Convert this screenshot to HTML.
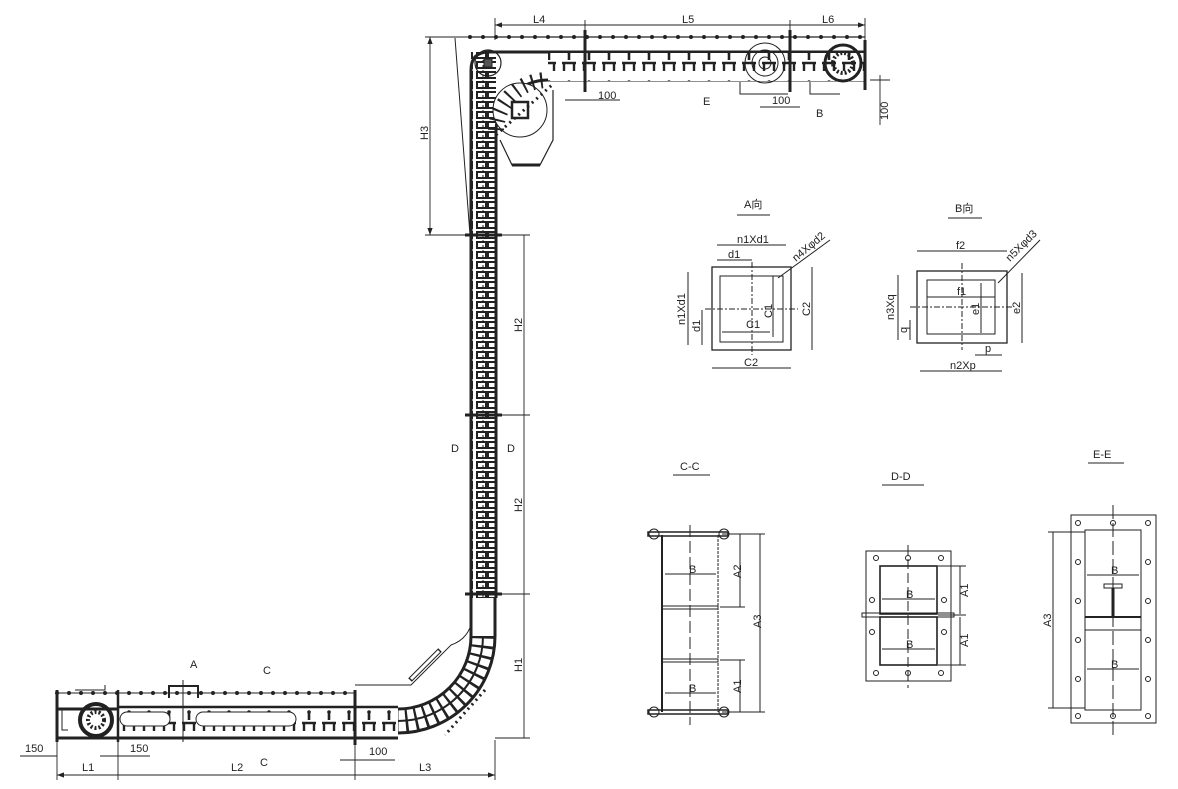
<!DOCTYPE html>
<html><head><meta charset="utf-8"><style>
html,body{margin:0;padding:0;background:#fff;}
svg{display:block;font-family:"Liberation Sans","Noto Sans CJK SC",sans-serif;}
text{font-size:11px;fill:#222;}
</style></head><body>
<svg width="1178" height="789" viewBox="0 0 1178 789" xmlns="http://www.w3.org/2000/svg">
<defs>
<pattern id="vr" width="25" height="10" patternUnits="userSpaceOnUse"><rect x="0" y="0" width="25" height="10" fill="#fff"/><rect x="2" y="2" width="9" height="6" fill="none" stroke="#222" stroke-width="2"/><rect x="13" y="2" width="9" height="6" fill="none" stroke="#222" stroke-width="2"/></pattern>
<pattern id="hr" width="20" height="30" patternUnits="userSpaceOnUse"><rect width="20" height="30" fill="#fff"/><path d="M2 3h14M4 3v8M14 3v8" stroke="#222" stroke-width="2.4" fill="none"/><path d="M9 21v9" stroke="#222" stroke-width="2.6"/><circle cx="9" cy="22" r="1.8" fill="#222"/></pattern>
<marker id="a" markerWidth="8" markerHeight="6" refX="8" refY="3" orient="auto-start-reverse"><path d="M0 0L8 3L0 6z" fill="#222"/></marker>
</defs>
<g stroke="#222" fill="none">
<!-- vertical column -->
<rect x="471" y="52" width="25" height="546" fill="url(#vr)" stroke="none"/>
<path d="M471 598V70q0-18 18-18H865" stroke-width="3"/>
<path d="M496 598V130a52 52 0 0 1 52-50H865" stroke-width="3"/>
<line x1="483" y1="60" x2="483" y2="598" stroke-width="1" stroke-dasharray="3 2"/>
<line x1="455" y1="38" x2="470" y2="235" stroke-width="1"/>
<!-- top conveyor -->
<rect x="548" y="53" width="317" height="28" fill="url(#hr)" stroke="none"/>
<path d="M470 37H865" stroke-width="4" stroke-dasharray="0 13" stroke-linecap="round"/>
<path d="M470 37H865" stroke-width="1.2"/>
<line x1="585" y1="30" x2="585" y2="92" stroke-width="3"/>
<line x1="790" y1="30" x2="790" y2="92" stroke-width="3"/>
<line x1="865" y1="40" x2="865" y2="90" stroke-width="3"/>
<circle cx="488" cy="63" r="13" stroke-width="1.2"/><rect x="484" y="59" width="8" height="8" fill="#555"/>
<circle cx="765" cy="63" r="20" stroke-width="1"/><circle cx="765" cy="63" r="13"/><circle cx="765" cy="63" r="6"/>
<circle cx="843" cy="63" r="18" stroke-width="3"/><circle cx="843" cy="63" r="10" stroke-width="4" stroke-dasharray="2 2"/>
<path d="M740 82v12h48M810 82v12h30" stroke-width="1"/>
<!-- big wheel + hopper -->
<circle cx="520" cy="110" r="27" stroke-width="1" fill="#fff"/>
<rect x="512" y="102" width="16" height="16" stroke-width="2.5" fill="#fff"/>
<line x1="496" y1="135" x2="552" y2="85" stroke-width="3" stroke-dasharray="2 4"/>
<path d="M500 140L512 165H540L553 140V90" stroke-width="1.2"/>
<line x1="512" y1="165" x2="540" y2="165" stroke-width="3"/>
<path d="M496 130a52 52 0 0 1 52-50" stroke-width="16" stroke-dasharray="2 7"/>
<!-- flanges on column -->
<line x1="465" y1="235" x2="502" y2="235" stroke-width="3"/>
<line x1="465" y1="415" x2="502" y2="415" stroke-width="3"/>
<line x1="465" y1="594" x2="502" y2="594" stroke-width="3"/>
<!-- bend -->
<path d="M471 598V636a73 73 0 0 1 -73 73H57" stroke-width="3"/>
<path d="M495 598V636a97 97 0 0 1 -97 97" stroke-width="3"/>
<path d="M483 636a85 85 0 0 1 -85 85" stroke-width="2"/>
<path d="M483 636a85 85 0 0 1 -85 85" stroke-width="24" stroke-dasharray="2.5 7"/>
<path d="M471 625q-5 15-20 20l-40 40h-56" stroke-width="1"/>
<line x1="410" y1="680" x2="440" y2="650" stroke-width="5" stroke="#222"/><line x1="411" y1="679" x2="439" y2="651" stroke-width="3" stroke="#fff"/>
<path d="M485 690l-40 45" stroke-width="3" stroke-dasharray="2 4"/>
<!-- bottom conveyor -->
<rect x="118" y="705" width="280" height="32" fill="url(#hr)" stroke="none"/>
<path d="M57 738H398" stroke-width="3"/>
<path d="M118 707H398" stroke-width="2.5"/>
<path d="M57 693H355" stroke-width="1"/>
<path d="M57 693H355" stroke-width="4" stroke-dasharray="0 12" stroke-linecap="round"/>
<line x1="57" y1="690" x2="57" y2="742" stroke-width="3"/>
<line x1="118" y1="690" x2="118" y2="742" stroke-width="2.5"/>
<line x1="355" y1="690" x2="355" y2="745" stroke-width="3"/>
<rect x="120" y="712" width="50" height="14" rx="7" stroke-width="1" fill="#fff"/>
<rect x="196" y="712" width="100" height="14" rx="7" stroke-width="1" fill="#fff"/>
<circle cx="96" cy="720" r="16" stroke-width="4"/><circle cx="96" cy="720" r="8" stroke-width="4" stroke-dasharray="2 2"/>
<path d="M75 690h30v-5M68 710h-6v20h6" stroke-width="1"/>
<path d="M169 698v-12h29v12" stroke-width="2"/>
<line x1="183" y1="680" x2="183" y2="742" stroke-width="1"/>
<!-- dimension lines -->
<g stroke-width="0.9">
<line x1="495" y1="25" x2="865" y2="25" marker-start="url(#a)" marker-end="url(#a)"/>
<line x1="585" y1="20" x2="585" y2="30"/><line x1="790" y1="20" x2="790" y2="30"/>
<line x1="495" y1="18" x2="495" y2="40"/><line x1="865" y1="18" x2="865" y2="40"/>
<line x1="430" y1="37" x2="430" y2="235" marker-start="url(#a)" marker-end="url(#a)"/>
<line x1="425" y1="37" x2="470" y2="37"/><line x1="425" y1="235" x2="465" y2="235"/>
<line x1="524" y1="235" x2="524" y2="738" />
<line x1="502" y1="235" x2="530" y2="235"/><line x1="502" y1="415" x2="530" y2="415"/><line x1="502" y1="594" x2="530" y2="594"/>
<line x1="495" y1="738" x2="530" y2="738"/>
<line x1="57" y1="775" x2="495" y2="775" marker-start="url(#a)" marker-end="url(#a)"/>
<line x1="57" y1="742" x2="57" y2="780"/><line x1="118" y1="742" x2="118" y2="780"/><line x1="355" y1="745" x2="355" y2="780"/><line x1="495" y1="740" x2="495" y2="780"/>
<line x1="20" y1="756" x2="57" y2="756"/><line x1="100" y1="756" x2="150" y2="756"/>
<line x1="340" y1="760" x2="395" y2="760"/>
<line x1="565" y1="100" x2="620" y2="100"/><line x1="760" y1="107" x2="800" y2="107"/>
<line x1="880" y1="75" x2="880" y2="125"/><line x1="870" y1="80" x2="890" y2="80"/>
</g>
</g>
<g>
<text x="533" y="23">L4</text><text x="682" y="23">L5</text><text x="822" y="23">L6</text>
<text x="428" y="140" transform="rotate(-90 428 140)">H3</text>
<text x="522" y="332" transform="rotate(-90 522 332)">H2</text>
<text x="522" y="512" transform="rotate(-90 522 512)">H2</text>
<text x="522" y="672" transform="rotate(-90 522 672)">H1</text>
<text x="82" y="771">L1</text><text x="231" y="771">L2</text><text x="419" y="771">L3</text>
<text x="25" y="752">150</text><text x="130" y="752">150</text><text x="369" y="755">100</text>
<text x="598" y="99">100</text><text x="772" y="104">100</text>
<text x="888" y="120" transform="rotate(-90 888 120)">100</text>
<text x="703" y="105">E</text><text x="816" y="117">B</text>
<text x="190" y="668">A</text><text x="263" y="674">C</text><text x="260" y="766">C</text>
<text x="451" y="452">D</text><text x="507" y="452">D</text>
</g>
<!-- A view -->
<g stroke="#222" fill="none" stroke-width="1">
<text x="744" y="208" stroke="none" font-size="13">A向</text><line x1="737" y1="215" x2="770" y2="215"/>
<rect x="712" y="267" width="79" height="83" stroke-width="1.3"/>
<rect x="720" y="276" width="63" height="66"/>
<line x1="752" y1="262" x2="752" y2="355" stroke-dasharray="6 2 2 2"/>
<line x1="705" y1="309" x2="798" y2="309" stroke-dasharray="6 2 2 2"/>
<line x1="717" y1="245" x2="786" y2="245"/><line x1="717" y1="260" x2="752" y2="260"/>
<line x1="688" y1="272" x2="688" y2="345"/><line x1="702" y1="310" x2="702" y2="345"/>
<line x1="812" y1="267" x2="812" y2="350"/><line x1="712" y1="368" x2="791" y2="368"/>
<line x1="773" y1="276" x2="773" y2="337"/><line x1="722" y1="332" x2="770" y2="332"/>
<line x1="778" y1="278" x2="830" y2="240"/>
<text x="955" y="212" stroke="none" font-size="13">B向</text>
<line x1="948" y1="218" x2="982" y2="218"/>
<rect x="917" y="271" width="90" height="72" stroke-width="1.3"/>
<rect x="927" y="280" width="68" height="54"/>
<line x1="962" y1="263" x2="962" y2="350" stroke-dasharray="6 2 2 2"/>
<line x1="910" y1="307" x2="1014" y2="307" stroke-dasharray="6 2 2 2"/>
<line x1="917" y1="251" x2="1007" y2="251"/><line x1="927" y1="297" x2="995" y2="297"/>
<line x1="898" y1="275" x2="898" y2="340"/><line x1="910" y1="320" x2="910" y2="340"/>
<line x1="1022" y1="273" x2="1022" y2="343"/><line x1="981" y1="283" x2="981" y2="333"/>
<line x1="920" y1="371" x2="1002" y2="371"/><line x1="975" y1="355" x2="1002" y2="355"/>
<line x1="998" y1="283" x2="1040" y2="240"/>
</g>
<g stroke="none">
<text x="737" y="243">n1Xd1</text><text x="728" y="258">d1</text>
<text x="685" y="325" transform="rotate(-90 685 325)">n1Xd1</text>
<text x="700" y="332" transform="rotate(-90 700 332)">d1</text>
<text x="746" y="328">C1</text><text x="772" y="318" transform="rotate(-90 772 318)">C1</text>
<text x="810" y="316" transform="rotate(-90 810 316)">C2</text><text x="744" y="366">C2</text>
<text x="796" y="262" transform="rotate(-40 796 262)">n4Xφd2</text>
<text x="956" y="249">f2</text><text x="957" y="295">f1</text>
<text x="894" y="320" transform="rotate(-90 894 320)">n3Xq</text>
<text x="907" y="333" transform="rotate(-90 907 333)">q</text>
<text x="979" y="315" transform="rotate(-90 979 315)">e1</text>
<text x="1020" y="314" transform="rotate(-90 1020 314)">e2</text>
<text x="985" y="352">p</text><text x="950" y="369">n2Xp</text>
<text x="1010" y="262" transform="rotate(-45 1010 262)">n5Xφd3</text>
</g>
<!-- C-C -->
<g stroke="#222" fill="none" stroke-width="1">
<text x="680" y="470" stroke="none" font-size="15">C-C</text><line x1="673" y1="475" x2="710" y2="475"/>
<line x1="662" y1="535" x2="662" y2="712" stroke-width="2"/>
<line x1="718" y1="535" x2="718" y2="712" stroke-dasharray="3 1"/>
<rect x="648" y="532" width="80" height="4" stroke-width="1.5"/>
<rect x="648" y="710" width="80" height="4" stroke-width="1.5"/>
<rect x="662" y="606" width="56" height="3"/><rect x="662" y="659" width="56" height="3"/>
<line x1="690" y1="525" x2="690" y2="725" stroke-dasharray="12 4"/>
<circle cx="654" cy="534" r="5"/><circle cx="724" cy="534" r="5"/><circle cx="654" cy="712" r="5"/><circle cx="724" cy="712" r="5"/>
<line x1="665" y1="574" x2="716" y2="574"/><line x1="665" y1="693" x2="716" y2="693"/>
<line x1="740" y1="534" x2="740" y2="607"/><line x1="740" y1="660" x2="740" y2="712"/>
<line x1="760" y1="534" x2="760" y2="712"/>
<line x1="722" y1="534" x2="765" y2="534"/><line x1="720" y1="607" x2="745" y2="607"/><line x1="720" y1="660" x2="745" y2="660"/><line x1="722" y1="712" x2="765" y2="712"/>
</g>
<g stroke="none"><text x="689" y="573">B</text><text x="689" y="692">B</text>
<text x="741" y="578" transform="rotate(-90 741 578)">A2</text>
<text x="761" y="628" transform="rotate(-90 761 628)">A3</text>
<text x="741" y="693" transform="rotate(-90 741 693)">A1</text></g>
<!-- D-D -->
<g stroke="#222" fill="none" stroke-width="1">
<text x="891" y="480" stroke="none" font-size="15">D-D</text><line x1="882" y1="485" x2="924" y2="485"/>
<rect x="866" y="551" width="85" height="130"/>
<rect x="880" y="566" width="57" height="48" stroke-width="1.6"/>
<rect x="880" y="617" width="57" height="48" stroke-width="1.6"/>
<rect x="862" y="613" width="92" height="4"/>
<line x1="908" y1="545" x2="908" y2="688" stroke-dasharray="10 4"/>
<line x1="882" y1="599" x2="935" y2="599"/><line x1="882" y1="649" x2="935" y2="649"/>
<line x1="960" y1="566" x2="960" y2="614"/><line x1="960" y1="617" x2="960" y2="665"/>
<line x1="938" y1="566" x2="966" y2="566"/><line x1="938" y1="615" x2="966" y2="615"/><line x1="938" y1="665" x2="966" y2="665"/>
<g stroke-width="1"><circle cx="876" cy="558" r="2.5"/><circle cx="908" cy="558" r="2.5"/><circle cx="941" cy="558" r="2.5"/><circle cx="876" cy="673" r="2.5"/><circle cx="908" cy="673" r="2.5"/><circle cx="941" cy="673" r="2.5"/><circle cx="872" cy="600" r="2.5"/><circle cx="944" cy="600" r="2.5"/><circle cx="872" cy="632" r="2.5"/><circle cx="944" cy="632" r="2.5"/></g>
</g>
<g stroke="none"><text x="906" y="598">B</text><text x="906" y="648">B</text>
<text x="968" y="597" transform="rotate(-90 968 597)">A1</text>
<text x="968" y="647" transform="rotate(-90 968 647)">A1</text></g>
<!-- E-E -->
<g stroke="#222" fill="none" stroke-width="1">
<text x="1093" y="458" stroke="none" font-size="15">E-E</text><line x1="1088" y1="463" x2="1124" y2="463"/>
<rect x="1071" y="515" width="85" height="208"/>
<rect x="1085" y="530" width="56" height="180"/>
<line x1="1085" y1="617" x2="1141" y2="617" stroke-width="2"/><line x1="1085" y1="630" x2="1141" y2="630"/>
<line x1="1113" y1="505" x2="1113" y2="735" stroke-dasharray="14 4"/>
<rect x="1104" y="584" width="18" height="4"/><line x1="1113" y1="588" x2="1113" y2="616" stroke-width="3"/>
<line x1="1087" y1="575" x2="1139" y2="575"/><line x1="1087" y1="669" x2="1139" y2="669"/>
<line x1="1053" y1="532" x2="1053" y2="708"/>
<line x1="1048" y1="532" x2="1085" y2="532"/><line x1="1048" y1="708" x2="1085" y2="708"/>
<g><circle cx="1078" cy="523" r="2.5"/><circle cx="1113" cy="523" r="2.5"/><circle cx="1148" cy="523" r="2.5"/><circle cx="1078" cy="562" r="2.5"/><circle cx="1148" cy="562" r="2.5"/><circle cx="1078" cy="601" r="2.5"/><circle cx="1148" cy="601" r="2.5"/><circle cx="1078" cy="640" r="2.5"/><circle cx="1148" cy="640" r="2.5"/><circle cx="1078" cy="679" r="2.5"/><circle cx="1148" cy="679" r="2.5"/><circle cx="1078" cy="716" r="2.5"/><circle cx="1113" cy="716" r="2.5"/><circle cx="1148" cy="716" r="2.5"/></g>
</g>
<g stroke="none"><text x="1111" y="574">B</text><text x="1111" y="668">B</text>
<text x="1051" y="627" transform="rotate(-90 1051 627)">A3</text></g>
</svg>
</body></html>
